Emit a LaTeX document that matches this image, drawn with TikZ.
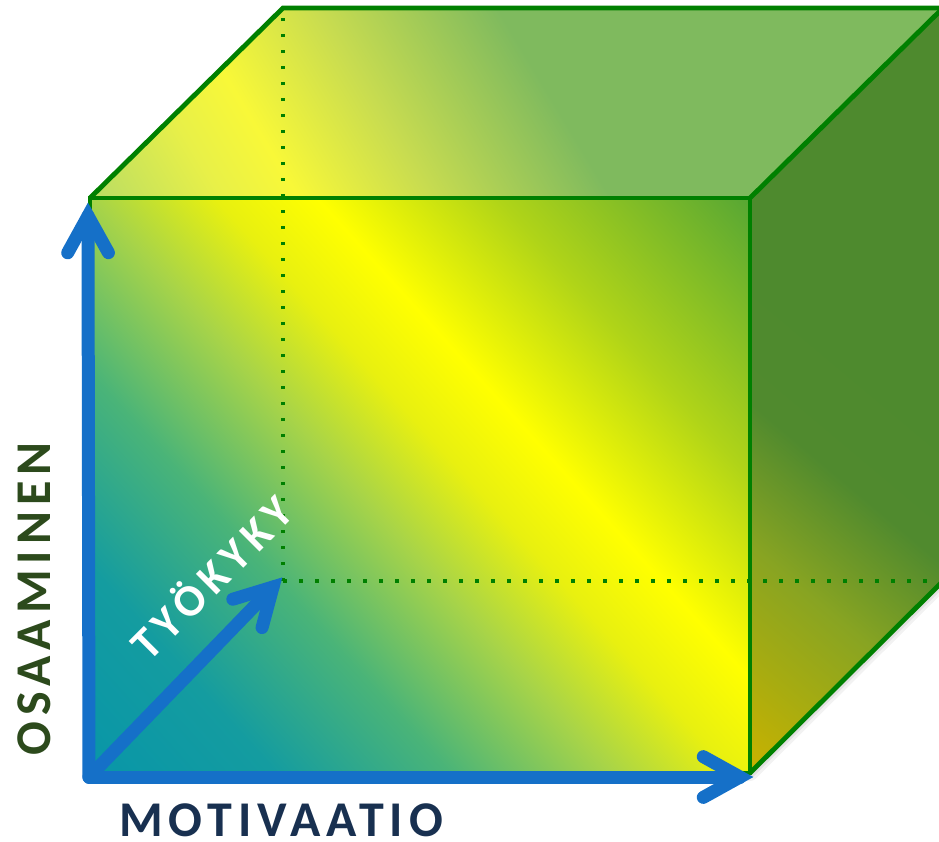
\documentclass[tikz,border=0pt]{standalone}
\usepackage{fontspec}
\usetikzlibrary{calc}
\newfontfamily\osafont[LetterSpace=12]{Carlito}
\newfontfamily\motfont[LetterSpace=12]{Carlito}
\newfontfamily\tyofont[LetterSpace=14]{Carlito}

\definecolor{edgegreen}{RGB}{0,128,0}
\definecolor{arrowblue}{RGB}{21,112,200}
\definecolor{osagreen}{RGB}{44,74,28}
\definecolor{motnavy}{RGB}{24,48,80}

% front face colours
\definecolor{fa}{HTML}{0896A8}
\definecolor{fb}{HTML}{149CA0}
\definecolor{fc}{HTML}{4AB478}
\definecolor{fd}{HTML}{A8D448}
\definecolor{fe}{HTML}{E8F010}
\definecolor{ff}{HTML}{FFFF00}
\definecolor{fg}{HTML}{B0D418}
\definecolor{fh}{HTML}{56A634}
% top face colours
\definecolor{ta}{HTML}{B8DC64}
\definecolor{tb}{HTML}{E8F048}
\definecolor{tc}{HTML}{F8F838}
\definecolor{td}{HTML}{C8DC50}
\definecolor{te}{HTML}{7FBA5E}
% right face colours
\definecolor{ra}{HTML}{C8B200}
\definecolor{rb}{HTML}{A8AC10}
\definecolor{rc}{HTML}{88A422}
\definecolor{rd}{HTML}{508A2E}
\definecolor{re}{HTML}{4E8A2E}

\pgfdeclarehorizontalshading{frontshade}{100bp}{color(0bp)=(fa); color(28bp)=(fa); color(35bp)=(fb); color(41.5bp)=(fc); color(47.5bp)=(fd); color(52bp)=(fe); color(55.8bp)=(ff); color(62.5bp)=(fg); color(72bp)=(fh); color(100bp)=(fh)}
\pgfdeclarehorizontalshading{topshade}{100bp}{color(0bp)=(ta); color(29.3bp)=(ta); color(35bp)=(tb); color(38.3bp)=(tc); color(44bp)=(td); color(51.7bp)=(te); color(100bp)=(te)}
\pgfdeclarehorizontalshading{rightshade}{100bp}{color(0bp)=(ra); color(32.5bp)=(ra); color(36.5bp)=(rb); color(41bp)=(rc); color(46.5bp)=(rd); color(52bp)=(re); color(100bp)=(re)}

\begin{document}
\begin{tikzpicture}[x=1pt,y=-1pt,
  edge/.style={draw=edgegreen, line width=4.8pt, line join=miter},
  dotedge/.style={draw=edgegreen, line width=3.5pt, dash pattern=on 3.5pt off 12.5pt},
  axis/.style={draw=arrowblue, line width=13pt, line cap=round},
  axishead/.style={draw=arrowblue, line width=13pt, line cap=round, line join=miter, miter limit=10},
  shadowring/.style={draw=black, line join=round},
  osalabel/.style={text=osagreen, font=\osafont\bfseries\fontsize{50}{50}\selectfont, inner sep=0pt},
  motlabel/.style={text=motnavy, font=\motfont\bfseries\fontsize{50}{50}\selectfont, inner sep=0pt},
  tyolabel/.style={text=white, font=\tyofont\bfseries\fontsize{45}{45}\selectfont, inner sep=0pt}
]
\useasboundingbox (0,0) rectangle (939,841);

% cube corners
\coordinate (F1) at (90,198);
\coordinate (F2) at (750,198);
\coordinate (F3) at (750,773);
\coordinate (F4) at (90,773);
\coordinate (B1) at (283,8);
\coordinate (B2) at (943,8);
\coordinate (B3) at (943,581);
\coordinate (B4) at (283,581);

% soft shadow of the cube
\begin{scope}[shift={(3,6)}]
  \draw[shadowring, line width=16pt, opacity=0.05] (F4) -- (F3) -- (B3) -- (B2);
  \draw[shadowring, line width=10pt, opacity=0.07] (F4) -- (F3) -- (B3) -- (B2);
  \draw[shadowring, line width=5pt, opacity=0.10] (F4) -- (F3) -- (B3) -- (B2);
\end{scope}

% top face
\begin{scope}
  \clip (F1) -- (B1) -- (B2) -- (F2) -- cycle;
  \shade[shading=topshade, shading angle=31] (14.5,-397) rectangle (1014.5,603);
\end{scope}
% right face
\begin{scope}
  \clip (F2) -- (B2) -- (B3) -- (F3) -- cycle;
  \shade[shading=rightshade, shading angle=50] (344.5,-109.5) rectangle (1344.5,890.5);
\end{scope}
% front face
\begin{scope}
  \clip (F1) -- (F2) -- (F3) -- (F4) -- cycle;
  \shade[shading=frontshade, shading angle=42] (-80,-14.5) rectangle (920,985.5);
\end{scope}

% hidden edges
\draw[dotedge] (B4) -- (B1);
\draw[dotedge] (B4) -- (B3);

% visible edges
\draw[edge] (F1) -- (F2) -- (F3) -- (F4) -- cycle;
\draw[edge] (F1) -- (B1) -- (B2);
\draw[edge] (F2) -- (B2);
\draw[edge] (F3) -- (B3);

% axes
\coordinate (org) at (89,777);
\coordinate (vtip) at (88,216);
\coordinate (htip) at (740,777);
\coordinate (dtip) at (273,587);

\draw[axis] (org) -- (vtip);
\draw[axis] (org) -- (htip);
\draw[axis] (org) -- (dtip);
\draw[axishead] ($(vtip)!42pt!29:(org)$) -- (vtip) -- ($(vtip)!42pt!-29:(org)$);
\draw[axishead] ($(htip)!42pt!29:(org)$) -- (htip) -- ($(htip)!42pt!-29:(org)$);
\draw[axishead] ($(dtip)!42pt!29:(org)$) -- (dtip) -- ($(dtip)!42pt!-29:(org)$);

% labels
\node[osalabel, rotate=90] (osa) at (34,599) {OSAAMINEN};
\node[motlabel] (mot) at (281,820) {MOTIVAATIO};
\node[tyolabel, rotate=45] (tyo) at (210,576) {TYÖKYKY};
\end{tikzpicture}
\end{document}
